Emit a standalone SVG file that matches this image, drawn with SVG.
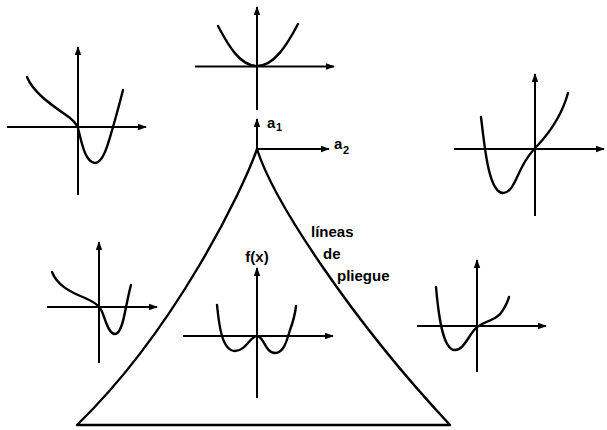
<svg xmlns="http://www.w3.org/2000/svg" width="607" height="430" viewBox="0 0 607 430">
<defs>
<marker id="ah" markerUnits="userSpaceOnUse" markerWidth="10" markerHeight="8" refX="8" refY="4" orient="auto">
<path d="M0,0.8 L9,4 L0,7.2 Z" fill="#000"/>
</marker>
<style>
.ax{fill:none;stroke:#000;stroke-width:2;marker-end:url(#ah)}
.ln{fill:none;stroke:#000;stroke-width:2}
.cv{fill:none;stroke:#000;stroke-width:2.4;stroke-linecap:round;stroke-linejoin:round}
.t{font-family:"Liberation Sans",Arial,sans-serif;font-size:15px;font-weight:bold;fill:#000}
.s{font-family:"Liberation Sans",Arial,sans-serif;font-size:11px;font-weight:bold;fill:#000}
</style>
</defs>
<rect width="607" height="430" fill="#fff"/>

<g id="cusp">
<path class="cv" d="M257,149 C243,190 175,330 77,425 L450,425 C350,318 273,200 257,149"/>
</g>

<g id="connectors">
<path class="ax" d="M257,149 L257,119"/>
<path class="ax" d="M257,149 L329,149"/>
</g>

<g id="label-a1"><text class="t" x="267" y="128">a</text><text class="s" x="276" y="131">1</text></g>
<g id="label-a2"><text class="t" x="334" y="149">a</text><text class="s" x="343" y="154">2</text></g>

<g id="label-fold">
<text class="t" x="311" y="237">líneas</text>
<text class="t" x="323" y="259">de</text>
<text class="t" x="337" y="281">pliegue</text>
</g>

<g id="graph-top">
<path class="ln" d="M195,66.5 L334,66.5" marker-end="url(#ah)"/>
<path class="ax" d="M257,110 L257,7"/>
<path class="cv" d="M218,26 C228,45 240,66 257,66 C274,66 287,45 298,24"/>
</g>

<g id="graph-upper-left">
<path class="ax" d="M7,127 L146,127"/>
<path class="ax" d="M78,195 L78,47"/>
<path class="cv" d="M27,77 C33,92 50,104 66,115 C72,119 76,123 78,128 C81,140 85,163 95,163 C104,163 109,140 113,127 C117,113 120,102 123,90"/>
</g>

<g id="graph-upper-right">
<path class="ax" d="M454,149 L604,149"/>
<path class="ax" d="M535,216 L535,74"/>
<path class="cv" d="M481,117 C484,140 488,193 503,193 C512,193 516,178 522,167 C527,157 533,150 538,145 C550,132 562,115 568,93"/>
</g>

<g id="graph-middle-left">
<path class="ax" d="M47,307 L157,307"/>
<path class="ax" d="M99,363 L99,242"/>
<path class="cv" d="M52,272 C57,285 70,292 85,298 C92,301 97,304 100,308 C104,312 107,334 115,334 C121,334 124,318 126,307 C128,298 129,292 131,285"/>
</g>

<g id="graph-center">
<text class="t" x="257" y="262" text-anchor="middle">f(x)</text>
<path class="ax" d="M183,336 L333,336"/>
<path class="ax" d="M257,398 L257,268"/>
<path class="cv" d="M217,305 C219,325 222,351 235,351 C246,351 250,336 257,336 C264,336 265,353 275,353 C284,353 287,340 290,330 C293,322 295,315 296,306"/>
</g>

<g id="graph-lower-right">
<path class="ax" d="M417,326 L546,326"/>
<path class="ax" d="M477,372 L477,260"/>
<path class="cv" d="M436,287 C438,310 442,350 455,350 C464,350 468,336 476,328 C484,321 498,320 503,310 C506,305 508,301 509,297"/>
</g>
</svg>
